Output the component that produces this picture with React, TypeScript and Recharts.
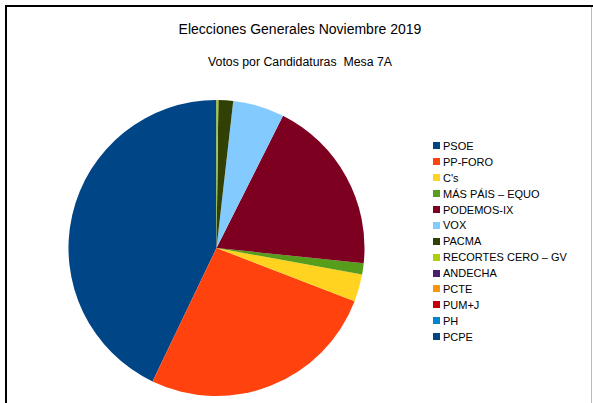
import { PieChart, Pie, Cell, Legend } from 'recharts';

const parties = [
  'PSOE',
  'PP-FORO',
  "C's",
  'MÁS PÁIS – EQUO',
  'PODEMOS-IX',
  'VOX',
  'PACMA',
  'RECORTES CERO – GV',
  'ANDECHA',
  'PCTE',
  'PUM+J',
  'PH',
  'PCPE',
];
const votes = [214, 131, 15, 6, 96, 28, 8, 1, 0, 0, 0, 0, 0];
const colors = [
  '#004586',
  '#ff420e',
  '#ffd320',
  '#579d1c',
  '#7e0021',
  '#83caff',
  '#314004',
  '#aecf00',
  '#4b1f6f',
  '#ff950e',
  '#c5000b',
  '#0084d1',
  '#004586',
];

const data = parties.map((name, i) => ({ name, value: votes[i] }));

const font = '"Liberation Sans", Arial, sans-serif';

function LegendList() {
  return (
    <div style={{ fontFamily: font, fontSize: 11, color: '#000' }}>
      {parties.map((p, i) => (
        <div key={p} style={{ display: 'flex', alignItems: 'center', height: 15.9 }}>
          <span style={{ width: 7, height: 7, background: colors[i], marginRight: 3, display: 'inline-block' }} />
          <span>{p}</span>
        </div>
      ))}
    </div>
  );
}

export default function App() {
  return (
    <div style={{ position: 'absolute', left: 0, top: 0, width: 593, height: 403, background: '#fff', overflow: 'hidden' }}>
      <div style={{ position: 'absolute', left: 5, top: 5, width: 2, height: 398, background: '#000' }} />
      <div style={{ position: 'absolute', left: 5, top: 5, width: 588, height: 2, background: '#000' }} />
      <div style={{ position: 'absolute', left: 591, top: 7, width: 1, height: 396, background: '#bbb' }} />
      <div style={{ position: 'absolute', left: 0, top: 21, width: 600, textAlign: 'center', fontFamily: font, fontSize: 14, color: '#000' }}>
        Elecciones Generales Noviembre 2019
      </div>
      <div style={{ position: 'absolute', left: 0, top: 55, width: 600, textAlign: 'center', fontFamily: font, fontSize: 12.3, color: '#000', whiteSpace: 'pre' }}>
        {'Votos por Candidaturas  Mesa 7A'}
      </div>
      <PieChart
        width={593}
        height={403}
        margin={{ top: 0, right: 0, bottom: 0, left: 0 }}
        style={{ position: 'absolute', left: 0, top: 0 }}
      >
        <Pie
          data={data}
          dataKey="value"
          nameKey="name"
          cx={216.5}
          cy={248}
          outerRadius={148}
          startAngle={90}
          endAngle={450}
          stroke="none"
          isAnimationActive={false}
        >
          {data.map((d, i) => (
            <Cell key={d.name} fill={colors[i]} />
          ))}
        </Pie>
        <Legend
          content={() => <LegendList />}
          wrapperStyle={{ position: 'absolute', left: 433, top: 138, width: 150 }}
        />
      </PieChart>
    </div>
  );
}
